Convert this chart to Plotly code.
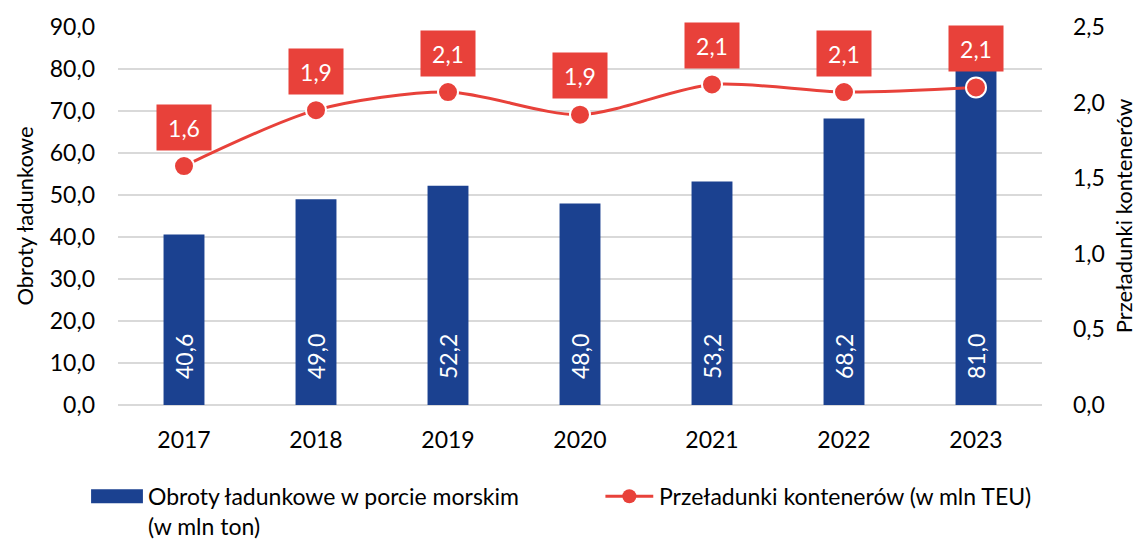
import plotly.graph_objects as go

# Port data: cargo turnover (mln t) and container throughput (mln TEU)
years = ["2017", "2018", "2019", "2020", "2021", "2022", "2023"]
cargo_mln_t = [40.6, 49.0, 52.2, 48.0, 53.2, 68.2, 81.0]
containers_mln_teu = [1.58, 1.95, 2.07, 1.92, 2.12, 2.07, 2.10]

left_ticks = [0, 10, 20, 30, 40, 50, 60, 70, 80, 90]
right_ticks = [0.0, 0.5, 1.0, 1.5, 2.0, 2.5]

BLUE = "#1B4190"
RED = "#E8413A"
FONT = "Lato"
TXT = "#000000"

# plot-area pixel geometry (used for the hand-built legend)
L, R, T, B = 118, 99, 24, 135
W, H = 1144, 540
PW, PH = W - L - R, H - T - B


def px_x(x):
    return (x - L) / PW


def px_y(y):
    return (H - B - y) / PH


def fmt(v):
    return f"{v:.1f}".replace(".", ",")


fig = go.Figure()

# bar value text sits a little above the bar base (en-space padding)
fig.add_trace(go.Bar(
    x=years, y=cargo_mln_t, name="Obroty ładunkowe w porcie morskim (w mln ton)",
    marker=dict(color=BLUE, line=dict(width=0)),
    text=["\u2002\u2002" + fmt(v) for v in cargo_mln_t], textposition="inside",
    insidetextanchor="start", textangle=-90,
    textfont=dict(color="white", size=23, family=FONT),
    constraintext="none", yaxis="y", showlegend=False,
))

fig.add_trace(go.Scatter(
    x=years, y=containers_mln_teu, name="Przeładunki kontenerów (w mln TEU)",
    mode="lines+markers", yaxis="y2",
    line=dict(color=RED, width=3, shape="spline", smoothing=0.8),
    marker=dict(color=RED, size=20, line=dict(color="white", width=2)),
    showlegend=False,
))

# value labels on red boxes above each point (category index positions)
for i, v in enumerate(containers_mln_teu):
    fig.add_annotation(
        x=i, y=v, xref="x", yref="y2", text=fmt(v), showarrow=False,
        yshift=39, width=52, height=43, bgcolor=RED,
        font=dict(color="white", size=23, family=FONT),
    )

# legend drawn below the plot
fig.add_shape(type="rect", xref="paper", yref="paper",
              x0=px_x(91), x1=px_x(143), y0=px_y(504), y1=px_y(490),
              fillcolor=BLUE, line=dict(width=0))
fig.add_annotation(xref="paper", yref="paper", x=px_x(146), y=px_y(481),
                   xanchor="left", yanchor="top", align="left", showarrow=False,
                   text="Obroty ładunkowe w porcie morskim<br>(w mln ton)",
                   font=dict(size=23, family=FONT, color=TXT))
fig.add_shape(type="line", xref="paper", yref="paper",
              x0=px_x(607), x1=px_x(655), y0=px_y(497), y1=px_y(497),
              line=dict(color=RED, width=3))
fig.add_shape(type="circle", xref="paper", yref="paper",
              xsizemode="pixel", ysizemode="pixel",
              xanchor=px_x(631), yanchor=px_y(497),
              x0=-7, x1=7, y0=-7, y1=7, fillcolor=RED, line=dict(width=0))
fig.add_annotation(xref="paper", yref="paper", x=px_x(659), y=px_y(497),
                   xanchor="left", yanchor="middle", showarrow=False,
                   text="Przeładunki kontenerów (w mln TEU)",
                   font=dict(size=23, family=FONT, color=TXT))

fig.update_layout(
    width=W, height=H,
    margin=dict(l=L, r=R, t=T, b=B, pad=0),
    paper_bgcolor="white", plot_bgcolor="white",
    separators=", ",
    font=dict(family=FONT, size=23, color=TXT),
    bargap=0.69,
    showlegend=False,
    xaxis=dict(
        type="category", range=[-0.5, len(years) - 0.5],
        showgrid=False, showline=False, ticks="",
        tickfont=dict(size=23, color=TXT), ticklabelstandoff=19,
    ),
    yaxis=dict(
        range=[0, 90], tickvals=left_ticks, tickformat=".1f",
        showgrid=True, gridcolor="#D9D9D9", gridwidth=1.5,
        zeroline=True, zerolinecolor="#D9D9D9", zerolinewidth=1.5,
        showline=False, ticks="", ticklabelstandoff=22,
        tickfont=dict(size=23, color=TXT),
        title=dict(text="Obroty ładunkowe", font=dict(size=22, color=TXT), standoff=10),
    ),
    yaxis2=dict(
        range=[0, 2.5], tickvals=right_ticks, tickformat=".1f",
        overlaying="y", side="right", showgrid=False, zeroline=False,
        showline=False, ticks="", ticklabelstandoff=30,
        tickfont=dict(size=23, color=TXT),
        title=dict(text="Przeładunki kontenerów", font=dict(size=22, color=TXT), standoff=12),
    ),
)

fig.write_html("out.html")
